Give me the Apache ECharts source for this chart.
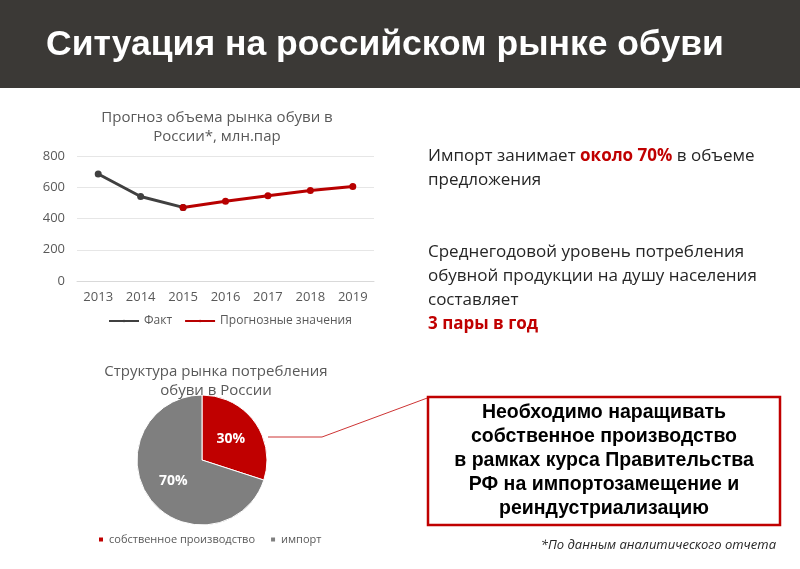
<!DOCTYPE html>
<html><head><meta charset="utf-8">
<script src="https://cdn.jsdelivr.net/npm/echarts@6/dist/echarts.min.js"></script>
<style>html,body{margin:0;padding:0;background:#fff}#main{width:800px;height:569px}</style>
</head><body><div id="main"></div>
<script>
var years = ['2013', '2014', '2015', '2016', '2017', '2018', '2019'];
var factValues = [685, 541, 471, null, null, null, null];
var forecastValues = [null, null, 471, 511, 545, 579, 605];
var pieNames = ['собственное производство', 'импорт'];
var pieValues = [30, 70];
var pieColors = ['#c00000', '#7f7f7f'];

var chart = echarts.init(document.getElementById('main'));
var txt = '#262626';
chart.setOption({
	backgroundColor: '#fff',
	animation: false,
	textStyle: { fontFamily: 'Open Sans' },
	title: [
		{ text: 'Прогноз объема рынка обуви в\nРоссии*, млн.пар', left: 212, top: 103, textAlign: 'center',
			textStyle: { fontSize: 15, fontWeight: 'normal', color: '#595959', lineHeight: 19 } },
		{ text: 'Структура рынка потребления\nобуви в России', left: 211, top: 357, textAlign: 'center',
			textStyle: { fontSize: 15, fontWeight: 'normal', color: '#595959', lineHeight: 19 } }
	],
	legend: [
		{ data: ['Факт', 'Прогнозные значения'], left: 103, top: 310, itemWidth: 30, itemHeight: 3, itemGap: 12,
			textStyle: { color: '#595959', fontSize: 12 } },
		{ data: pieNames, left: 92, top: 529, icon: 'rect', itemWidth: 6, itemHeight: 6, itemGap: 14,
			textStyle: { color: '#595959', fontSize: 11 } }
	],
	grid: { left: 77, right: 426, top: 156, height: 125 },
	xAxis: { type: 'category', data: years, boundaryGap: true,
		axisLine: { lineStyle: { color: '#d9d9d9' } }, axisTick: { show: false },
		axisLabel: { color: '#595959', fontSize: 13, margin: 10 } },
	yAxis: { type: 'value', min: 0, max: 800, interval: 200,
		axisLabel: { color: '#595959', fontSize: 13, margin: 12 },
		splitLine: { lineStyle: { color: '#e6e6e6' } } },
	series: [
		{ name: 'Факт', type: 'line', data: factValues, symbol: 'circle', symbolSize: 7,
			itemStyle: { color: '#404040' }, lineStyle: { width: 3, color: '#404040' } },
		{ name: 'Прогнозные значения', type: 'line', data: forecastValues, symbol: 'circle', symbolSize: 7,
			itemStyle: { color: '#b80000' }, lineStyle: { width: 3, color: '#b80000' } },
		{ type: 'pie', center: [202, 460], radius: 65, startAngle: 90, clockwise: true,
			data: pieNames.map(function(n, i) { return { name: n, value: pieValues[i], itemStyle: { color: pieColors[i] } }; }),
			itemStyle: { borderColor: '#fff', borderWidth: 1 },
			label: { position: 'inside', formatter: '{c}%', color: '#fff', fontWeight: 'bold', fontSize: 14 },
			labelLine: { show: false } }
	],
	graphic: [
		{ type: 'rect', shape: { x: 0, y: 0, width: 800, height: 88 }, style: { fill: '#3b3936' } },
		{ type: 'text', left: 46, top: 27, style: { text: 'Ситуация на российском рынке обуви', fill: '#fff',
			font: 'bold 35.5px "Liberation Sans", Arial' } },
		{ type: 'text', left: 428, top: 148, style: { rich: { a: { fill: txt, font: '17px "Open Sans"', lineHeight: 24 }, b: { fill: '#c00000', font: 'bold 17px "Open Sans"', lineHeight: 24 } },
			text: '{a|Импорт занимает }{b|около 70%}{a| в объеме}\n{a|предложения}' } },
		{ type: 'text', left: 428, top: 244, style: { rich: { a: { fill: txt, font: '17px "Open Sans"', lineHeight: 24 }, b: { fill: '#c00000', font: 'bold 17px "Open Sans"', lineHeight: 24 } },
			text: '{a|Среднегодовой уровень потребления}\n{a|обувной продукции на душу населения}\n{a|составляет}\n{b|3 пары в год}' } },
		{ type: 'polyline', shape: { points: [[268, 437], [322, 437], [430, 397]] }, style: { stroke: '#c00000', lineWidth: 0.8, fill: null } },
		{ type: 'rect', shape: { x: 428, y: 397, width: 352, height: 128 }, style: { fill: '#fff', stroke: '#c00000', lineWidth: 2.5 } },
		{ type: 'text', x: 604, y: 461, style: { text: 'Необходимо наращивать\nсобственное производство\nв рамках курса Правительства\nРФ на импортозамещение и\nреиндустриализацию',
			fill: '#000', font: 'bold 19.5px "Liberation Sans", Arial', align: 'center', verticalAlign: 'middle', lineHeight: 24 } },
		{ type: 'text', right: 24, top: 539, style: { text: '*По данным аналитического отчета', fill: txt, font: 'italic 13px "Open Sans"' } }
	]
});
</script></body></html>
